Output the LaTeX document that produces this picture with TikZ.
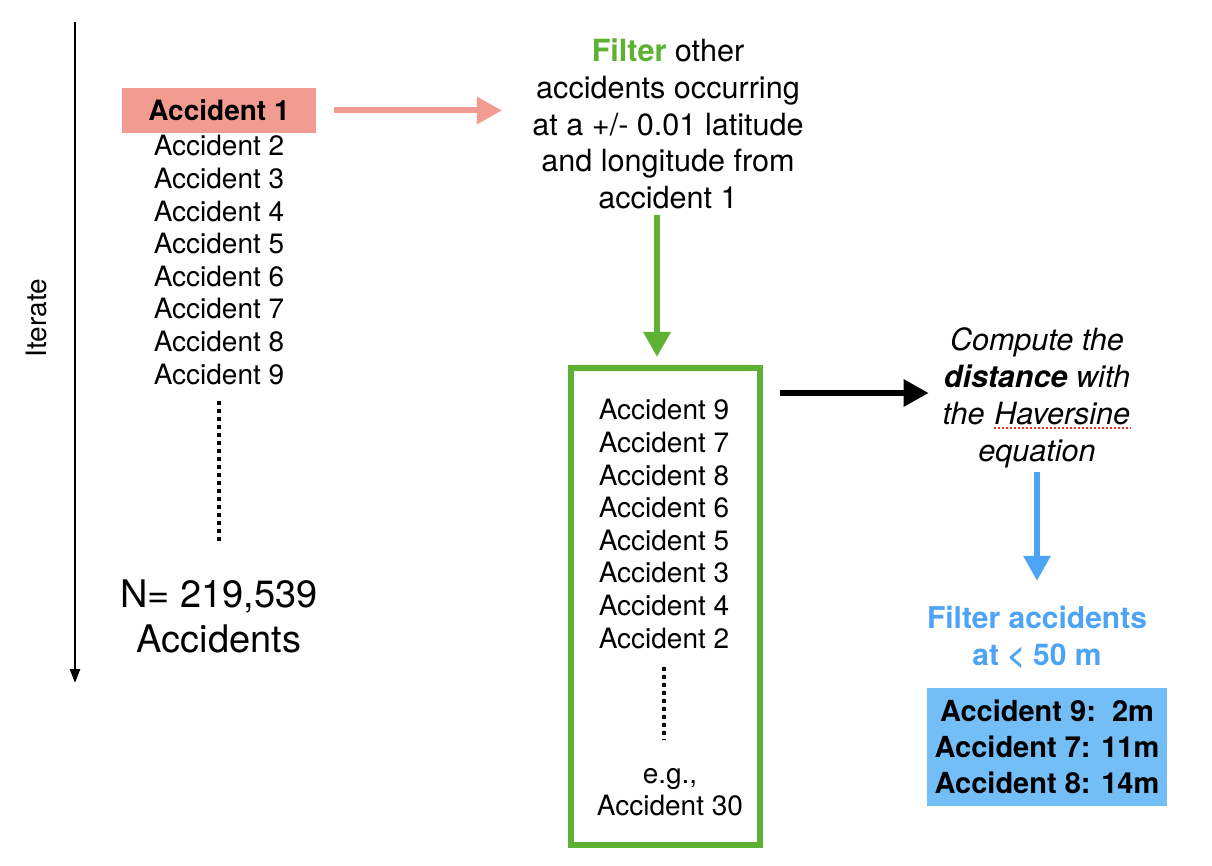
\documentclass[tikz,border=0pt]{standalone}
\usepackage{fontspec}
\setmainfont{TeX Gyre Heros}
\usepackage{tikz}
\usetikzlibrary{arrows.meta}
\usetikzlibrary{calc}
\definecolor{accpink}{HTML}{F29B90}
\definecolor{accgreen}{HTML}{5DB133}
\definecolor{accblue}{HTML}{4DA3F6}
\definecolor{boxblue}{HTML}{74BEF8}
\definecolor{spellred}{HTML}{E8352C}
\newcommand{\spellmark}[1]{\tikz[baseline=(w.base)]{\node[inner sep=0pt] (w) {#1};
  \draw[draw=spellred, line width=0.8pt, dash pattern=on 1pt off 1pt] ([yshift=-1.6pt]w.base west) -- ([yshift=-1.6pt]w.base east);}}

\begin{document}
\begin{tikzpicture}[x=0.5pt, y=-0.5pt,
  txt/.style={font=\fontsize{14}{16.3}\selectfont, inner sep=0pt},
  bigtxt/.style={font=\fontsize{15.3}{18.4}\selectfont, align=center, inner sep=2pt},
  fatarrow/.style={line width=3pt, -{Triangle[length=12.5pt,width=13pt]}},
  dotline/.style={line width=2pt, dash pattern=on 2pt off 2pt}]
\useasboundingbox (0,0) rectangle (1212,866);

% iterate axis
\coordinate (itop) at (75,22);
\coordinate (ibot) at (75,683);
\draw[line width=1.2pt, -{Triangle[length=7pt,width=5pt]}] (itop) -- (ibot);
\node (iter) at (37,318) [rotate=90, txt] {Iterate};

% all accidents
\node (a1) at (219,110.5) [fill=accpink, minimum width=97pt, minimum height=22.5pt, txt, font=\fontsize{14}{16.3}\selectfont\bfseries] {Accident 1};
\foreach \i in {2,...,9}
  \node (a\i) at (219,{146+32.6*(\i-2)}) [txt] {Accident \i};
\draw[dotline] (219,401) -- (219,543);
\node (total) at (219,616.5) [align=center, font=\fontsize{19}{22.5}\selectfont] {N= 219,539\\Accidents};

% filter step
\node (filt) at (668,124) [bigtxt] {\textcolor{accgreen}{\bfseries Filter} other\\accidents occurring\\at a +/- 0.01 latitude\\and longitude from\\accident 1};
\draw[fatarrow, accpink, shorten <=9pt, shorten >=13pt] (a1.east) -- (a1.east -| filt.west);

% nearby accidents
\node (near) at (665.5,606.5) [draw=accgreen, line width=3pt, minimum width=94.5pt, minimum height=238.5pt] {};
\foreach \i [count=\k from 0] in {9,7,8,6,5,3,4,2}
  \node (n\i) at (664,{410+32.6*\k}) [txt] {Accident \i};
\draw[dotline] (664,667) -- (664,740);
\node (eg) at (670,792) [align=center, txt] {e.g.,\\Accident 30};
\coordinate (gtop) at (657,215);
\draw[fatarrow, accgreen, shorten >=4pt] (gtop) -- (gtop |- near.north);

% distance step
\node (dist) at (1037,398) [bigtxt, font=\fontsize{15.3}{18.4}\selectfont\itshape] {Compute the\\\textbf{distance} with\\the \spellmark{Haversine}\\equation};
\draw[fatarrow, shorten <=8.5pt, shorten >=4.75pt] (near.east |- 0,393) -- (dist.west |- 0,393);

% close accidents
\node (close) at (1037,637.5) [bigtxt, text=accblue, font=\fontsize{15}{18.5}\selectfont\bfseries] {Filter accidents\\at < 50 m};
\draw[fatarrow, accblue, shorten <=0pt, shorten >=10.5pt] (dist.south) -- (close.north);
\node (result) at (1047,747) [fill=boxblue, minimum width=120pt, minimum height=59pt, align=center, font=\fontsize{14.5}{18}\selectfont\bfseries] {Accident 9:\ \ 2m\\Accident 7: 11m\\Accident 8: 14m};
\end{tikzpicture}
\end{document}
